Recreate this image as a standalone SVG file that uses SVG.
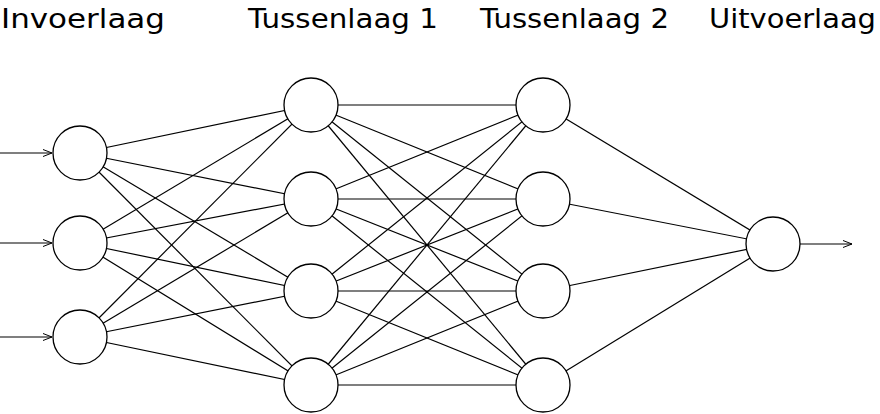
<svg xmlns="http://www.w3.org/2000/svg" width="880" height="414" viewBox="0 0 880 414">
<defs><marker id="a" markerWidth="10" markerHeight="8" refX="9" refY="4" orient="auto" markerUnits="userSpaceOnUse"><path d="M0,0.5 L9,4 L0,7.5" fill="none" stroke="#000" stroke-width="1"/></marker></defs>
<style>.e{stroke:#000;stroke-width:1.2}.n{fill:#fff;stroke:#000;stroke-width:1.3}.t{font-family:"DejaVu Sans",sans-serif;font-size:26px;fill:#000}</style>
<rect width="880" height="414" fill="#fff"/>
<text class="t" x="1" y="28" textLength="164" lengthAdjust="spacingAndGlyphs">Invoerlaag</text>
<text class="t" x="248" y="28" textLength="190" lengthAdjust="spacingAndGlyphs">Tussenlaag 1</text>
<text class="t" x="480" y="28" textLength="189" lengthAdjust="spacingAndGlyphs">Tussenlaag 2</text>
<text class="t" x="709" y="28" textLength="167" lengthAdjust="spacingAndGlyphs">Uitvoerlaag</text>
<g id="connectors" class="e">
<line x1="0" y1="153" x2="52" y2="153" marker-end="url(#a)"/>
<line x1="0" y1="243" x2="52" y2="243" marker-end="url(#a)"/>
<line x1="0" y1="337" x2="52" y2="337" marker-end="url(#a)"/>
<line x1="800" y1="244" x2="852" y2="244" marker-end="url(#a)"/>
<g>
<line x1="80" y1="153" x2="311" y2="105"/><line x1="80" y1="153" x2="311" y2="199"/><line x1="80" y1="153" x2="311" y2="291"/><line x1="80" y1="153" x2="311" y2="385"/>
<line x1="80" y1="243" x2="311" y2="105"/><line x1="80" y1="243" x2="311" y2="199"/><line x1="80" y1="243" x2="311" y2="291"/><line x1="80" y1="243" x2="311" y2="385"/>
<line x1="80" y1="337" x2="311" y2="105"/><line x1="80" y1="337" x2="311" y2="199"/><line x1="80" y1="337" x2="311" y2="291"/><line x1="80" y1="337" x2="311" y2="385"/>
<line x1="311" y1="105" x2="543" y2="105"/><line x1="311" y1="105" x2="543" y2="199"/><line x1="311" y1="105" x2="543" y2="291"/><line x1="311" y1="105" x2="543" y2="385"/>
<line x1="311" y1="199" x2="543" y2="105"/><line x1="311" y1="199" x2="543" y2="199"/><line x1="311" y1="199" x2="543" y2="291"/><line x1="311" y1="199" x2="543" y2="385"/>
<line x1="311" y1="291" x2="543" y2="105"/><line x1="311" y1="291" x2="543" y2="199"/><line x1="311" y1="291" x2="543" y2="291"/><line x1="311" y1="291" x2="543" y2="385"/>
<line x1="311" y1="385" x2="543" y2="105"/><line x1="311" y1="385" x2="543" y2="199"/><line x1="311" y1="385" x2="543" y2="291"/><line x1="311" y1="385" x2="543" y2="385"/>
<line x1="543" y1="105" x2="773" y2="244"/><line x1="543" y1="199" x2="773" y2="244"/><line x1="543" y1="291" x2="773" y2="244"/><line x1="543" y1="385" x2="773" y2="244"/>
</g>
</g>
<g id="i1"><circle class="n" cx="80" cy="153" r="27"/></g>
<g id="i2"><circle class="n" cx="80" cy="243" r="27"/></g>
<g id="i3"><circle class="n" cx="80" cy="337" r="27"/></g>
<g id="h11"><circle class="n" cx="311" cy="105" r="27"/></g>
<g id="h12"><circle class="n" cx="311" cy="199" r="27"/></g>
<g id="h13"><circle class="n" cx="311" cy="291" r="27"/></g>
<g id="h14"><circle class="n" cx="311" cy="385" r="27"/></g>
<g id="h21"><circle class="n" cx="543" cy="105" r="27"/></g>
<g id="h22"><circle class="n" cx="543" cy="199" r="27"/></g>
<g id="h23"><circle class="n" cx="543" cy="291" r="27"/></g>
<g id="h24"><circle class="n" cx="543" cy="385" r="27"/></g>
<g id="o1"><circle class="n" cx="773" cy="244" r="27"/></g>
</svg>
